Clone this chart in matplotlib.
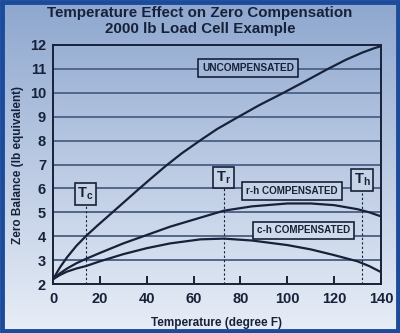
import numpy as np
import matplotlib.pyplot as plt
from matplotlib.patches import Rectangle
from matplotlib.colors import LinearSegmentedColormap

plt.rcParams['font.family'] = ['Liberation Sans', 'DejaVu Sans']
plt.rcParams['font.weight'] = 'bold'
plt.rcParams['mathtext.fontset'] = 'custom'
plt.rcParams['mathtext.bf'] = 'Liberation Sans:bold'
plt.rcParams['mathtext.rm'] = 'Liberation Sans:bold'

# Zero balance vs temperature
temp_unc = [0, 3, 6, 10, 14, 19, 24, 30, 36, 42, 48, 55, 63, 70, 78, 88, 98, 108, 117, 125, 132, 137, 140]
unc = [2.2, 2.7, 3.12, 3.6, 4.0, 4.45, 4.88, 5.4, 5.92, 6.43, 6.93, 7.47, 8.02, 8.48, 8.93,
       9.48, 9.98, 10.5, 10.98, 11.38, 11.68, 11.86, 11.95]

temp_comp = [0, 3, 6, 10, 14, 20, 30, 40, 50, 63, 73, 85, 100, 110, 120, 130, 135, 140]
rh = [2.2, 2.45, 2.65, 2.87, 3.05, 3.3, 3.7, 4.05, 4.4, 4.78, 5.07, 5.25, 5.37, 5.37, 5.3, 5.13, 5.0, 4.83]
ch = [2.2, 2.38, 2.52, 2.65, 2.75, 2.95, 3.25, 3.5, 3.7, 3.87, 3.9, 3.82, 3.63, 3.45, 3.21, 2.95, 2.75, 2.5]

# reference temperatures: cold, room, hot
t_marks = [13.9, 72.8, 132]
t_names = ['$\\mathbf{T_c}$', '$\\mathbf{T_r}$', '$\\mathbf{T_h}$']
t_label_y = [5.77, 6.46, 6.35]

navy = '#17223a'
bg_top = '#8ea7cf'
bg_bot = '#e8eef7'

fig = plt.figure(figsize=(4.0, 3.33), dpi=100)

# gradient backdrop
bg = fig.add_axes([0, 0, 1, 1], zorder=0)
grad = np.linspace(0, 1, 256).reshape(-1, 1)
cmap = LinearSegmentedColormap.from_list('bg', [bg_top, bg_bot])
bg.imshow(grad, aspect='auto', cmap=cmap, extent=[0, 1, 0, 1], origin='upper')
bg.set_axis_off()
fig.add_artist(Rectangle((0.004, 0.005), 0.992, 0.99, transform=fig.transFigure,
                         fill=False, edgecolor='#1c4b9c', lw=3.5))

ax = fig.add_axes([0.1325, 0.147, 0.82, 0.718], zorder=1)
ax.patch.set_alpha(0)

for y in range(3, 12):
    ax.axhline(y, color='#51678b', lw=1.4, zorder=1)

ax.plot(temp_unc, unc, color=navy, lw=1.6, zorder=3)
ax.plot(temp_comp, rh, color=navy, lw=1.6, zorder=3)
ax.plot(temp_comp, ch, color=navy, lw=1.6, zorder=3)

box = dict(boxstyle='square,pad=0.4', ec=navy, lw=1.2)
for t, name, ly in zip(t_marks, t_names, t_label_y):
    ax.plot([t, t], [2, ly - 0.4], color=navy, lw=0.8, ls=(0, (2, 2)), zorder=2)
    ax.text(t, ly, name, ha='center', va='center', fontsize=10.5,
            color=navy, bbox=dict(box, fc='#c6d3e7', boxstyle='square,pad=0.18'), zorder=4)

ax.text(83.2, 11.04, 'UNCOMPENSATED', ha='center', va='center', fontsize=7.3,
        fontweight='bold', color=navy, bbox=dict(box, fc='#a3b7d8'), zorder=4)
ax.text(102, 5.91, 'r-h COMPENSATED', ha='center', va='center', fontsize=7.1,
        fontweight='bold', color=navy, bbox=dict(box, fc='#c6d3e7'), zorder=4)
ax.text(107, 4.24, 'c-h COMPENSATED', ha='center', va='center', fontsize=7.1,
        fontweight='bold', color=navy, bbox=dict(box, fc='#cfdaeb'), zorder=4)

ax.set_xlim(0, 140)
ax.set_ylim(2, 12)
ax.set_xticks(range(0, 141, 20))
ax.set_yticks(range(2, 13))
ax.tick_params(axis='x', direction='in', length=6, width=1.4, colors=navy,
               labelsize=10.5, pad=6)
ax.tick_params(axis='y', length=0, colors=navy, labelsize=10.5, pad=5)
for lbl in ax.get_xticklabels() + ax.get_yticklabels():
    lbl.set_fontweight('bold')
for s in ax.spines.values():
    s.set_color(navy)
    s.set_linewidth(1.4)

ax.set_xlabel('Temperature (degree F)', fontsize=8.5, fontweight='bold',
              color=navy, labelpad=8)
ax.set_ylabel('Zero Balance (lb equivalent)', fontsize=8.5, fontweight='bold',
              color=navy, labelpad=4)

fig.text(0.5, 0.962, 'Temperature Effect on Zero Compensation', ha='center',
         va='center', fontsize=10.9, fontweight='bold', color=navy)
fig.text(0.5, 0.914, '2000 lb Load Cell Example', ha='center', va='center',
         fontsize=10.9, fontweight='bold', color=navy)

fig.savefig('out.png', dpi=100)
